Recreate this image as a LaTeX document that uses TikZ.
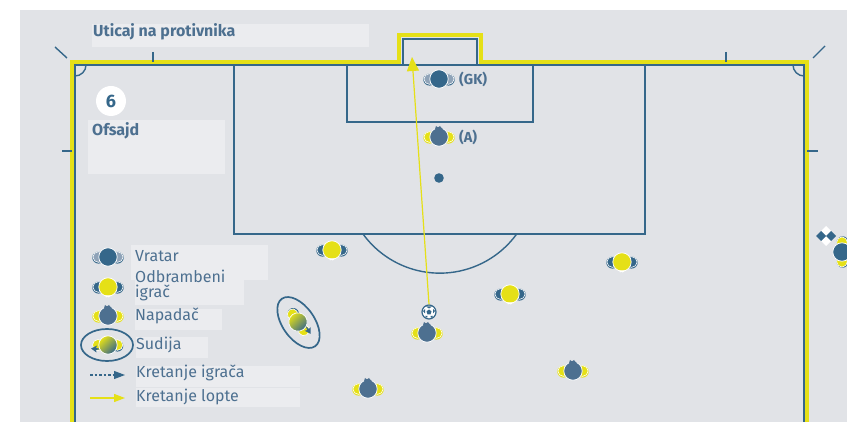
\documentclass[tikz,border=0pt]{standalone}
\usepackage{fontspec}
\setmainfont{Fira Sans}
\usetikzlibrary{arrows.meta}
\definecolor{fieldgray}{HTML}{E1E3E7}
\definecolor{boxgray}{HTML}{EBECEF}
\definecolor{pblue}{HTML}{35678A}
\definecolor{atkblue}{HTML}{4D7090}
\definecolor{pyellow}{HTML}{E5E017}
\definecolor{armgray}{HTML}{8FA3B8}
\tikzset{
  x=1pt,y=-1pt,
  line/.style={draw=pblue,line width=1.4pt},
  yline/.style={draw=pyellow,line width=4pt},
  tick/.style={draw=pblue,line width=1.4pt},
  label/.style={font=\fontsize{16}{15}\selectfont,text=atkblue,anchor=west,inner sep=0pt,align=left},
  blabel/.style={font=\fontsize{16}{13}\selectfont\bfseries,text=atkblue,anchor=west,inner sep=0pt},
}
% #1 x, #2 y, #3 rotation, #4 body, #5 arm fill, #6 arm backing
\newcommand{\footballer}[6]{%
  \begin{scope}[shift={(#1,#2)},rotate=#3]
    \fill[#6] (-9.5,0.6) ellipse [x radius=6.2,y radius=6];
    \fill[#6] (9.5,0.6) ellipse [x radius=6.2,y radius=6];
    \fill[#5,draw=white,line width=.6pt] (-9.5,0) ellipse [x radius=5.6,y radius=5.4];
    \fill[#5,draw=white,line width=.6pt] (9.5,0) ellipse [x radius=5.6,y radius=5.4];
    \fill[#4,draw=white,line width=.7pt] (0,0) circle (9.2);
  \end{scope}}
\newcommand{\keeper}[3]{\footballer{#1}{#2}{#3}{pblue}{armgray}{pblue}}
\newcommand{\defender}[3]{\footballer{#1}{#2}{#3}{pyellow}{pblue}{pblue}
  \begin{scope}[shift={(#1,#2)},rotate=#3]
    \fill[white] (-3,8.5) -- (-2,10.5) -- (-.5,9.6) -- (.5,10.5) -- (2,9.6) -- (3,8.5) -- cycle;
  \end{scope}}
\newcommand{\attacker}[3]{\footballer{#1}{#2}{#3}{atkblue}{pyellow}{pyellow}
  \begin{scope}[shift={(#1,#2)},rotate=#3]
    \fill[atkblue] (-4,-8) -- (-3,-11) -- (-1,-9.6) -- (1,-11) -- (2,-9.6) -- (4,-8) -- cycle;
  \end{scope}}
\newcommand{\official}[3]{%
  \begin{scope}[shift={(#1,#2)},rotate=#3]
    \fill[pblue] (9.5,.8) circle (5.8);
    \fill[pyellow,draw=white,line width=.6pt] (-10,0) circle (5.5);
    \fill[pyellow,draw=white,line width=.6pt] (9.5,0) circle (5.3);
    \fill[pblue] (-17,3.5) -- (-11,.5) -- (-12,3) -- (-7,4) -- (-12,5) -- (-11.5,7.5) -- cycle;
    \shade[left color=pyellow,right color=pblue,shading angle=45,draw=white,line width=.7pt] (0,0) circle (9.2);
  \end{scope}}
\begin{document}
\begin{tikzpicture}
\useasboundingbox (0,0) rectangle (847,422);
\fill[white] (0,0) rectangle (847,422);
\fill[fieldgray] (20,10) rectangle (847,422);
% text boxes
\fill[boxgray] (92,24) rectangle (369,47);
\fill[boxgray] (88,120) rectangle (225,174);
\fill[boxgray] (131,245) rectangle (268,280);
\fill[boxgray] (135,280) rectangle (244,305);
\fill[boxgray] (135,309) rectangle (222,330);
\fill[boxgray] (136,337) rectangle (208,358);
\fill[boxgray] (136,366) rectangle (300,387);
\fill[boxgray] (136,388) rectangle (300,407);
% yellow outline
\draw[yline] (72,422) -- (72,62) -- (399,62) -- (399,35) -- (481,35) -- (481,62) -- (807,62) -- (807,422);
% blue lines
\draw[line] (75,422) -- (75,65) -- (804,65) -- (804,422);
\draw[line] (403,65) -- (403,39) -- (477,39) -- (477,65);
\draw[line] (234,65) -- (234,234) -- (645,234) -- (645,65);
\draw[line] (347,65) -- (347,122) -- (533,122) -- (533,65);
\draw[line] (363,234) arc (144:36:95);
\draw[line] (75,76) arc (90:0:11);
\draw[line] (804,76) arc (90:180:11);
% ticks
\draw[tick] (153,52) -- (153,62);
\draw[tick] (726,52) -- (726,62);
\draw[tick] (62,151) -- (72,151);
\draw[tick] (807,151) -- (818,151);
\draw[tick] (55,47) -- (67,58);
\draw[tick] (825,46) -- (813,58);
% spot
\fill[pblue] (439,178) circle (4.8);
% corner flag
\fill[white] (826,226) -- (831,231) -- (826,236) -- (821,231) -- cycle;
\fill[white] (826,236) -- (831,241) -- (826,246) -- (821,241) -- cycle;
\fill[pblue] (821,231) -- (826,236) -- (821,241) -- (816,236) -- cycle;
\fill[pblue] (831,231) -- (836,236) -- (831,241) -- (826,236) -- cycle;
% players
\keeper{439}{79}{0}
\attacker{439}{137}{0}
\defender{332}{250}{0}
\defender{622}{262}{0}
\defender{510}{294}{0}
\attacker{427}{333}{0}
\attacker{573}{371}{0}
\attacker{368}{389}{0}
\footballer{842}{252}{90}{pblue}{pyellow}{pblue}
\official{298}{322}{125}
\draw[line,line width=1.7pt] (298.5,322.5) ellipse [x radius=29,y radius=16,rotate=-55];
% ball
\node[circle,fill=white,draw=pblue,line width=1.2pt,minimum size=14pt,inner sep=0pt] (ball) at (429,312) {};
\fill[pblue] (429,309.5) -- (431.5,311.3) -- (430.5,314.3) -- (427.5,314.3) -- (426.5,311.3) -- cycle;
\fill[pblue] (426,306.5) -- (432,306.5) -- (429,308.5) -- cycle;
\fill[pblue] (423,311) -- (425,309) -- (425,313.5) -- cycle;
\fill[pblue] (435,311) -- (433,309) -- (433,313.5) -- cycle;
\fill[pblue] (425,316) -- (427.5,316) -- (427,318) -- cycle;
\fill[pblue] (433,316) -- (430.5,316) -- (431,318) -- cycle;
\coordinate (goaltip) at (412,57);
\draw[draw=pyellow,line width=1.2pt,-{Triangle[length=14pt,width=12pt]}] (ball.north) -- (goaltip);
% legend
\keeper{108}{257}{0}
\defender{108}{287}{0}
\attacker{108}{316}{0}
\official{108}{345}{0}
\draw[line,line width=1.7pt] (107,345) ellipse [x radius=26,y radius=16];
\coordinate (ma) at (90,375); \coordinate (mb) at (125,375);
\coordinate (ba) at (90,398); \coordinate (bb) at (125,398);
\draw[draw=pblue,line width=1.1pt,dash pattern=on 2.5pt off 2pt,-{Triangle[length=11pt,width=8pt]}] (ma) -- (mb);
\draw[draw=pyellow,line width=1.2pt,-{Triangle[length=11pt,width=8pt]}] (ba) -- (bb);
% text
\node[blabel] (t1) at (93,32) {Uticaj na protivnika};
\node[circle,fill=white,minimum size=30pt,inner sep=0pt,font=\fontsize{18}{18}\selectfont\bfseries,text=pblue] (six) at (111,101) {6};
\node[blabel] (t2) at (92,131) {Ofsajd};
\node[blabel,font=\fontsize{14.5}{13}\selectfont\bfseries] (gk) at (459,79.5) {(GK)};
\node[blabel,font=\fontsize{14.5}{13}\selectfont\bfseries] (a) at (459,137) {(A)};
\node[label] (l1) at (135,256) {Vratar};
\node[label] (l2) at (135,285) {Odbrambeni\\[0pt]igrač};
\node[label] (l3) at (135,316) {Napadač};
\node[label] (l4) at (136,345) {Sudija};
\node[label] (l5) at (136,372.5) {Kretanje igrača};
\node[label] (l6) at (136,396.5) {Kretanje lopte};
\end{tikzpicture}
\end{document}
